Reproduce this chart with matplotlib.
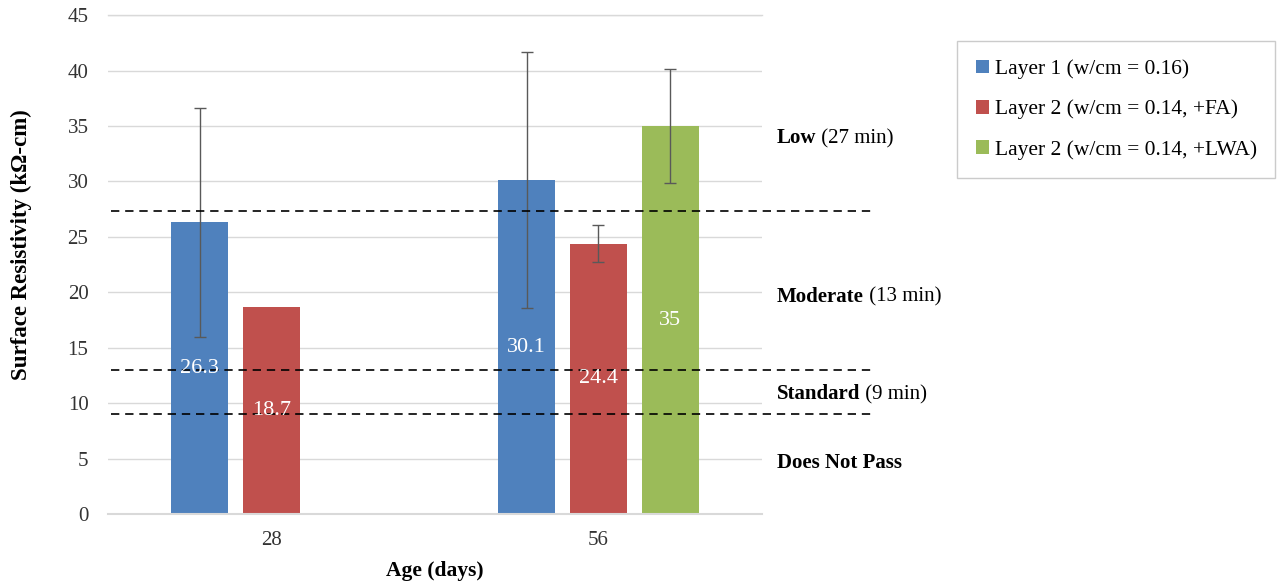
import numpy as np
import matplotlib
matplotlib.use("Agg")
import matplotlib.pyplot as plt

plt.rcParams['font.family'] = ['Liberation Serif', 'DejaVu Serif']

# surface resistivity by age, one series per layer mix
ages = ['28', '56']
series_names = ['Layer 1 (w/cm = 0.16)',
                'Layer 2 (w/cm = 0.14, +FA)',
                'Layer 2 (w/cm = 0.14, +LWA)']
layer1 = [26.3, 30.1]
layer2_fa = [18.7, 24.4]
layer2_lwa = [np.nan, 35.0]
err1 = [10.3, 11.55]
err2 = [np.nan, 1.65]
err3 = [np.nan, 5.15]

# resistivity class limits and their labels
limits = [27.3, 13.0, 9.0]
class_bold = ['Low', 'Moderate', 'Standard', 'Does Not Pass']
class_rest = [' (27 min)', ' (13 min)', ' (9 min)', '']
class_y = [33.9, 19.6, 10.8, 4.6]

colors = ['#4f81bd', '#c0504d', '#9bbb59']

fig = plt.figure(figsize=(12.85, 5.88), dpi=100)
ax = fig.add_axes([0.084, 0.126, 0.509, 0.848])

x = np.arange(len(ages))
width = 0.174
step = 0.22
values = [layer1, layer2_fa, layer2_lwa]
errors = [err1, err2, err3]

for i, (vals, errs) in enumerate(zip(values, errors)):
    pos = x + (i - 1) * step
    ax.bar(pos, vals, width, color=colors[i], label=series_names[i], zorder=2)
    for p, v, e in zip(pos, vals, errs):
        if np.isnan(v):
            continue
        if not np.isnan(e):
            ax.errorbar(p, v, yerr=e, fmt='none', ecolor='#595959',
                        elinewidth=1.0, capsize=4, capthick=1.0, zorder=3)
        ax.text(p, v / 2, f'{v:g}', color='white', fontsize=16,
                ha='center', va='center', zorder=4)

for lim in limits:
    ax.plot([-0.49, 1.85], [lim, lim], color='black', ls=(0, (5, 3.5)),
            lw=1.2, clip_on=False, zorder=3)

for b, r, yv in zip(class_bold, class_rest, class_y):
    t = ax.text(1.545, yv, b, fontsize=15, fontweight='bold',
                ha='left', va='center')
    if r:
        ax.annotate(r, xy=(1, 0), xycoords=t, ha='left', va='bottom',
                    fontsize=15)

ax.set_xlim(-0.5, 1.5)
ax.set_ylim(0, 45)
ax.set_yticks(np.arange(0, 46, 5))
ax.set_xticks(x)
ax.set_xticklabels(ages)
ax.grid(axis='y', color='#d9d9d9', lw=1.0, zorder=0)
ax.set_axisbelow(True)
# category axis line sits over the bar bottoms
ax.axhline(0, color='#d9d9d9', lw=1.5, clip_on=False, zorder=2.5)
ax.axhline(45, color='#d9d9d9', lw=1.0, clip_on=False, zorder=0)
for s in ax.spines.values():
    s.set_visible(False)
ax.tick_params(length=0, labelsize=15, colors='#333333', pad=12)
ax.tick_params(axis='y', pad=14)

ax.set_xlabel('Age (days)', fontsize=15.5, fontweight='bold', labelpad=8)
ax.set_ylabel('Surface Resistivity (kΩ-cm)', fontsize=16.5, fontweight='bold')
ax.yaxis.set_label_coords(-0.116, 0.54)

leg = fig.legend(loc='upper left', bbox_to_anchor=(0.745, 0.93),
                 fontsize=15.5, frameon=True, fancybox=False, edgecolor='#bfbfbf',
                 handlelength=0.6, handleheight=0.6, handletextpad=0.3,
                 labelspacing=0.95, borderpad=0.85, borderaxespad=0)
leg.get_frame().set_linewidth(1.0)

fig.savefig('out.png', dpi=100)
